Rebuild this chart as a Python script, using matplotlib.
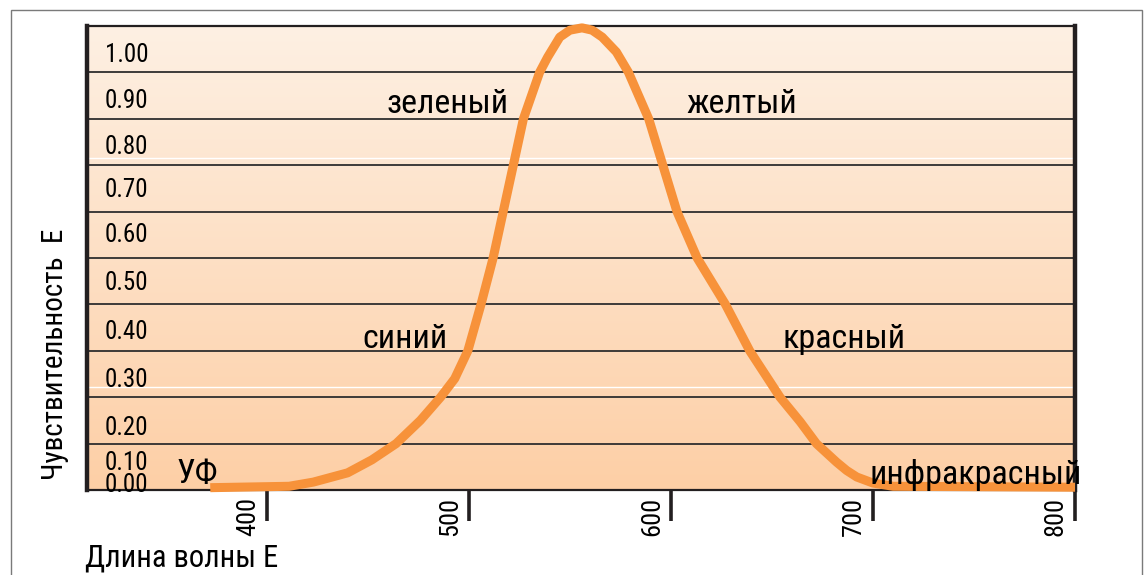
import numpy as np
import matplotlib.pyplot as plt
import matplotlib.transforms as mtransforms
from matplotlib.colors import LinearSegmentedColormap
from matplotlib.patches import Rectangle

plt.rcParams['font.family'] = ['Roboto Condensed', 'Roboto', 'DejaVu Sans']

# spectral sensitivity curve
wavelength = [372, 411, 423, 440, 452, 464, 476, 486, 493, 499.5, 506, 512, 517, 522, 527,
              535, 539, 545, 550, 556, 561, 566, 573, 579, 589, 596, 603, 613, 627, 639,
              654, 664, 672, 682, 687, 692, 700, 710, 800]
sensitivity = [0.005, 0.008, 0.017, 0.037, 0.065, 0.10, 0.15, 0.20, 0.24, 0.30, 0.40, 0.50,
               0.60, 0.70, 0.80, 0.90, 0.933, 0.976, 0.991, 0.996, 0.991, 0.976, 0.944, 0.90,
               0.80, 0.70, 0.60, 0.50, 0.40, 0.30, 0.20, 0.147, 0.10, 0.06, 0.042, 0.028,
               0.015, 0.008, 0.006]

xticks = [400, 500, 600, 700, 800]
grid_vals = [0.1, 0.2, 0.3, 0.4, 0.5, 0.6, 0.7, 0.8, 0.9]
ytick_labels = ['0.00', '0.10', '0.20', '0.30', '0.40', '0.50', '0.60', '0.70', '0.80', '0.90', '1.00']

band_names = ['УФ', 'синий', 'зеленый', 'желтый', 'красный', 'инфракрасный']

# layout (label placements in data units)
ylabel_y = [0.011, 0.058, 0.134, 0.237, 0.34, 0.446, 0.55, 0.647, 0.74, 0.838, 0.937]
band_xy = [(355.4, 0.015), (447.5, 0.306), (459.4, 0.8125),
           (607.9, 0.8125), (655, 0.306), (698.5, 0.013)]

fig = plt.figure(figsize=(11.45, 5.75), dpi=100)
ax = fig.add_axes([87/1145, 1 - 490/575, (1075 - 87)/1145, (490 - 26)/575])
ax.set_xlim(311, 800)
ax.set_ylim(0, 1.0)

# outer frame
fig.patches.append(Rectangle((11/1145, -0.02), (1142 - 11)/1145, 1 - 10/575 + 0.02,
                             transform=fig.transFigure, fill=False,
                             edgecolor='#7a7a7a', linewidth=1.0))

# background gradient
cmap = LinearSegmentedColormap.from_list('peach', ['#fdcfa6', '#fef0e3'])
grad = np.linspace(0, 1, 256).reshape(-1, 1)
ax.imshow(grad, extent=[311, 800, 0, 1.0], origin='lower', aspect='auto',
          cmap=cmap, zorder=0)

for g in grid_vals:
    ax.axhline(g, color='#2e2e2e', linewidth=1.3, zorder=1)
for w in [0.222, 0.716]:
    ax.axhline(w, color='white', linewidth=1.0, zorder=1)

ax.plot(wavelength, sensitivity, color='#f7923a', linewidth=6.5, solid_capstyle='butt',
        solid_joinstyle='round', zorder=3, clip_on=False)

# spines and ticks
for side in ['left', 'right']:
    ax.spines[side].set_linewidth(3.2)
    ax.spines[side].set_color('#231f20')
for side in ['top', 'bottom']:
    ax.spines[side].set_linewidth(1.6)
    ax.spines[side].set_color('#231f20')

ax.set_xticks(xticks)
ax.set_xticklabels([])
ax.tick_params(axis='x', direction='out', length=22, width=2.6, color='#231f20')
ax.set_yticks([])

trans = mtransforms.blended_transform_factory(ax.transData, ax.transAxes)
off = mtransforms.ScaledTranslation(-7/100, -7/100, fig.dpi_scale_trans)
for v in xticks:
    ax.text(v, 0, str(v), transform=trans + off, rotation=90, ha='right', va='top',
            fontsize=19, color='black')

ytrans = mtransforms.blended_transform_factory(ax.transAxes, ax.transData)
for lab, yy in zip(ytick_labels, ylabel_y):
    ax.text(0.018, yy, lab, transform=ytrans, ha='left', va='center', fontsize=18,
            color='black', zorder=4)

for name, (bx, by) in zip(band_names, band_xy):
    ax.text(bx, by, name, ha='left', va='baseline', fontsize=24.5, color='black',
            zorder=4, clip_on=False)

fig.text(55/1145, 1 - 480/575, 'Чувствительность  Е', rotation=90, ha='center',
         va='bottom', fontsize=21)
fig.text(85/1145, 1 - 567/575, 'Длина волны Е', ha='left', va='baseline', fontsize=22)

fig.savefig('out.png', dpi=100)
